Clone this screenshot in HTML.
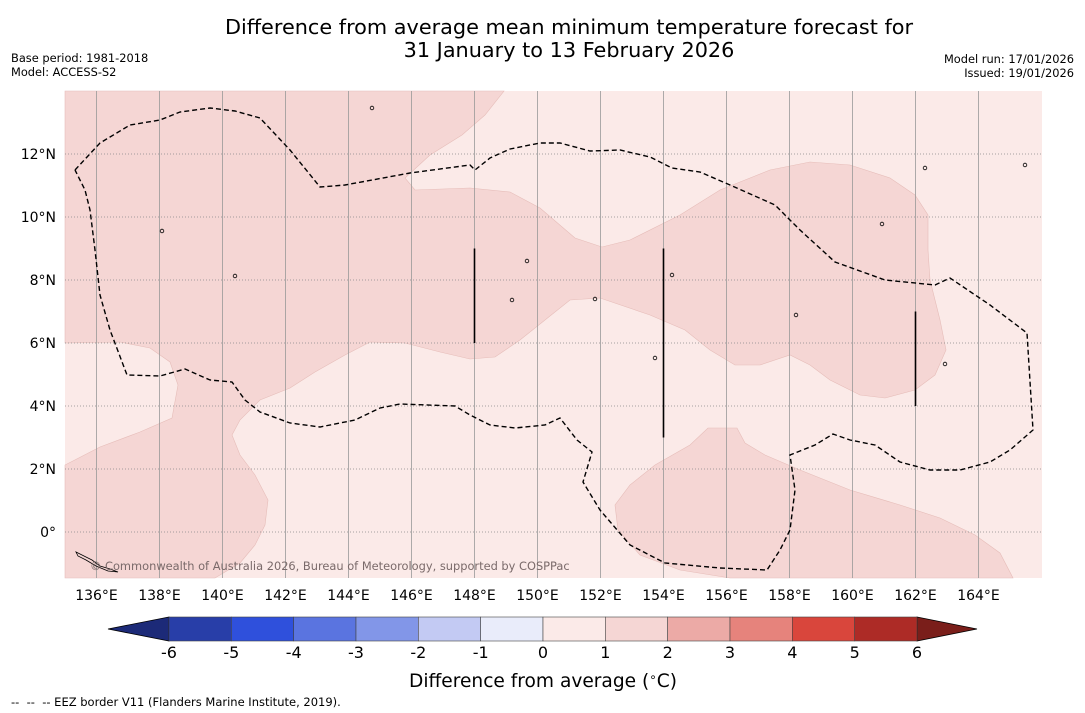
<!DOCTYPE html>
<html><head><meta charset="utf-8"><style>
body{margin:0;background:#fff;width:1085px;height:713px;overflow:hidden;font-family:"DejaVu Sans","Liberation Sans",sans-serif}
svg{position:absolute;left:0;top:0;font-family:"DejaVu Sans","Liberation Sans",sans-serif}
</style></head><body>
<svg id="c" width="1085" height="713" xmlns="http://www.w3.org/2000/svg">
<text x="569" y="34" font-size="20.8" text-anchor="middle">Difference from average mean minimum temperature forecast for</text>
<text x="569" y="57" font-size="20.8" text-anchor="middle">31 January to 13 February 2026</text>
<text x="11" y="62" font-size="11.4">Base period: 1981-2018</text>
<text x="11" y="76" font-size="11.4">Model: ACCESS-S2</text>
<text x="1074" y="63" font-size="11.4" text-anchor="end">Model run: 17/01/2026</text>
<text x="1074" y="77" font-size="11.4" text-anchor="end">Issued: 19/01/2026</text>
<g id="map"></g>
<g id="cbar"></g>
<text x="543" y="687" font-size="18.6" text-anchor="middle">Difference from average (<tspan font-size="12" dy="-6">∘</tspan><tspan dy="6">C)</tspan></text>
<text x="11" y="706" font-size="11.5" xml:space="preserve">--  --  -- EEZ border V11 (Flanders Marine Institute, 2019).</text>
</svg>
<script>
const lonTicks=[136,138,140,142,144,146,148,150,152,154,156,158,160,162,164];
const latTicks=[12,10,8,6,4,2,0];
const levels=[-6,-5,-4,-3,-2,-1,0,1,2,3,4,5,6];
const levelColors=["#283ea8","#2f50dc","#5a74e0","#8296e8","#c3caf3","#e9ecfa","#fbeae8","#f5d6d4","#ecaaa6","#e6837c","#d9463c","#ad2b26"];
const P=(a)=>a.map(([x,y])=>[135+(x-65)/31.5,14-(y-91)/31.5]);
const regionA=P([[65,91],[504,91],[485,115],[462,135],[430,155],[405,178],[415,190],[470,188],[510,192],[540,208],[575,238],[602,247],[630,240],[680,215],[720,190],[770,170],[810,162],[850,165],[890,178],[915,195],[928,215],[928,250],[930,280],[940,320],[946,350],[935,375],[915,390],[885,398],[860,395],[830,380],[810,365],[790,355],[760,365],[735,365],[710,350],[685,330],[650,315],[600,298],[570,300],[545,320],[520,340],[495,357],[470,359],[440,352],[405,343],[370,342],[345,355],[315,372],[290,388],[260,400],[240,420],[232,435],[240,455],[255,475],[268,500],[265,525],[255,545],[240,563],[215,578],[65,578],[65,465],[100,447],[140,432],[172,418],[178,385],[170,362],[150,348],[120,342],[65,343]]);
const regionB=P([[708,428],[737,428],[745,443],[765,455],[800,470],[850,490],[900,505],[940,518],[975,535],[1000,553],[1013,578],[730,578],[680,570],[640,555],[618,530],[615,505],[630,485],[655,465],[690,445]]);
const eez=P([[75,170],[100,143],[130,125],[160,120],[180,112],[210,108],[235,111],[260,118],[290,150],[320,187],[345,185],[410,173],[470,165],[475,170],[490,158],[510,149],[540,143],[560,143],[590,151],[620,150],[650,157],[672,168],[700,172],[730,185],[775,205],[800,230],[835,262],[885,280],[935,285],[950,278],[990,305],[1027,333],[1033,430],[1010,450],[990,462],[960,470],[930,470],[900,462],[875,445],[850,440],[833,434],[815,445],[790,455],[795,490],[790,530],[780,550],[767,570],[720,568],[665,563],[630,545],[600,510],[583,482],[592,452],[577,440],[560,418],[545,425],[515,428],[490,425],[470,415],[455,406],[400,404],[380,408],[355,420],[320,427],[290,423],[260,412],[245,400],[232,382],[210,380],[185,369],[160,376],[127,375],[110,330],[100,295],[95,250],[90,210],[85,190],[75,170]]);
const segLons=[148,154,162];
const segLat0=[6,3,4];
const segLat1=[9,9,7];
const L=65,R=1042,T=91,B=578,LON0=135,LAT0=14,S=31.5;
const X=lon=>L+(lon-LON0)*S, Y=lat=>T+(LAT0-lat)*S;
const NS="http://www.w3.org/2000/svg";
function mk(tag,attrs,parent){const e=document.createElementNS(NS,tag);for(const k in attrs)e.setAttribute(k,attrs[k]);parent.appendChild(e);return e;}
const map=document.getElementById('map');
mk('rect',{x:L,y:T,width:R-L,height:B-T,fill:"#fbeae8"},map);
const pathOf=pts=>pts.map((p,i)=>(i?'L':'M')+X(p[0]).toFixed(1)+' '+Y(p[1]).toFixed(1)).join(' ');
let ra=mk('path',{d:pathOf(regionA)+'Z',fill:"#f5d6d4",stroke:"#e6bdb9","stroke-width":0.6},map);


let rb=mk('path',{d:pathOf(regionB)+'Z',fill:"#f5d6d4",stroke:"#e6bdb9","stroke-width":0.6},map);


lonTicks.forEach(v=>{
 let g=mk('line',{x1:X(v),x2:X(v),y1:T,y2:B,stroke:"#999","stroke-width":0.8},map);
 
 
 let t=mk('text',{x:X(v),y:600,"font-size":14,"text-anchor":"middle"},map);t.textContent=v+"°E";
 
 
});
latTicks.forEach(v=>{
 let g=mk('line',{x1:L,x2:R,y1:Y(v),y2:Y(v),stroke:"#888","stroke-width":0.8,"stroke-dasharray":"1,2"},map);
 
 
 let t=mk('text',{x:56,y:Y(v)+5,"font-size":14,"text-anchor":"end"},map);t.textContent=v===0?"0°":v+"°N";
 
 
});
let ez=mk('path',{d:pathOf(eez),fill:"none",stroke:"#000","stroke-width":1.4,"stroke-dasharray":"5,3"},map);


segLons.forEach((v,i)=>{
 let s=mk('line',{x1:X(v),x2:X(v),y1:Y(segLat1[i]),y2:Y(segLat0[i]),stroke:"#000","stroke-width":1.6},map);
 
 
});
[[372,108],[162,231],[527,261],[595,299],[672,275],[796,315],[945,364],[1025,165],[925,168],[882,224],[235,276],[512,300],[655,358]].forEach(p=>{
 let c=mk('circle',{cx:p[0],cy:p[1],r:1.8,fill:"none",stroke:"#000","stroke-width":0.8},map);
 
 
});
let isl=mk('path',{d:"M76 552 L84 556 L92 560 L100 566 L110 569 L118 572 L108 571 L96 566 L86 560 L78 556Z",fill:"none",stroke:"#000","stroke-width":0.8},map);


let cp=mk('text',{x:90,y:570,"font-size":11.4,fill:"#7a6a6a"},map);
cp.textContent="© Commonwealth of Australia 2026, Bureau of Meteorology, supported by COSPPac";


const cb=document.getElementById('cbar');
const CB0=169,CB1=917,CT=617,CBH=24;
const CX=v=>CB0+(v-levels[0])/(levels[levels.length-1]-levels[0])*(CB1-CB0);
let le=mk('polygon',{points:`${CB0},${CT} 108,${CT+CBH/2} ${CB0},${CT+CBH}`,fill:"#1c2a78",stroke:"#000","stroke-width":0.8},cb);


let re=mk('polygon',{points:`${CB1},${CT} 977,${CT+CBH/2} ${CB1},${CT+CBH}`,fill:"#7a1e1a",stroke:"#000","stroke-width":0.8},cb);


levelColors.forEach((c,i)=>{
 let r=mk('rect',{x:CX(levels[i]),y:CT,width:CX(levels[i+1])-CX(levels[i]),height:CBH,fill:c,stroke:"#444","stroke-width":0.6},cb);
 
 
});
levels.forEach(v=>{
 let t=mk('text',{x:CX(v),y:658,"font-size":16,"text-anchor":"middle"},cb);t.textContent=v;
 
 
});
</script>
</body></html>
